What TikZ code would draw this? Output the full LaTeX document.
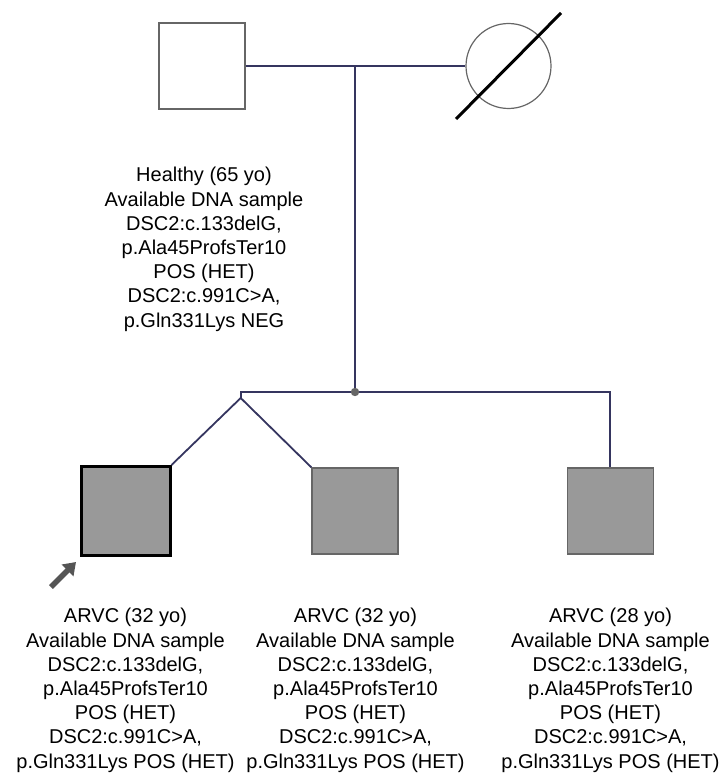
\documentclass[tikz,border=0pt]{standalone}
\usepackage{fontspec}
\setmainfont{Liberation Sans}
\usetikzlibrary{arrows.meta}
\definecolor{pedline}{HTML}{35355F}
\definecolor{boxgray}{HTML}{999999}
\definecolor{edgegray}{HTML}{666666}
\definecolor{arrowgray}{HTML}{555555}
\tikzset{
  pedlink/.style={draw=pedline, line width=2pt},
  femalesym/.style={circle, draw=edgegray, line width=1.2pt, minimum size=85pt, inner sep=0pt},
  malewhite/.style={rectangle, draw=edgegray, line width=1.5pt, fill=white, minimum size=86pt, inner sep=0pt},
  maleaff/.style={rectangle, draw=edgegray, line width=1.5pt, fill=boxgray, minimum size=86pt, inner sep=0pt},
  proband/.style={rectangle, draw=black, line width=3pt, fill=boxgray, minimum size=89pt, inner sep=0pt},
  info/.style={align=center, font=\fontsize{20pt}{24.2pt}\selectfont, inner sep=0pt, anchor=base}
}
\begin{document}
\begin{tikzpicture}[x=1pt,y=-1pt]
\useasboundingbox (0,0) rectangle (721,776);
% parents
\node[malewhite] (father) at (202,66) {};
\node[femalesym] (mother) at (508.5,66) {};
\coordinate (slashA) at (456,119);
\coordinate (slashB) at (561,13);
\draw[black, line width=3pt] (slashA) -- (slashB);
\draw[pedlink] (father.east) -- (mother.west);
\coordinate (mid) at (355,66);
\coordinate (sib) at (355,392);
\draw[pedlink] (mid) -- (sib);
% children
\node[proband] (c1) at (125.5,511) {};
\node[maleaff] (c2) at (355,511) {};
\node[maleaff] (c3) at (610.3,511) {};
\coordinate (sibL) at (240.7,392);
\coordinate (sibR) at (610.3,392);
\coordinate (twin) at (240.7,398);
\draw[pedlink, line join=miter] (twin) -- (sibL) -- (sibR) -- (c3.north);
\draw[pedlink, line width=1.8pt] (c1.north east) -- (twin) -- (c2.north west);
\fill[edgegray] (sib) circle (4.2pt);
% proband arrow
\coordinate (arrT) at (51,587);
\coordinate (arrH) at (76,562);
\draw[arrowgray, line width=5.5pt, -{Triangle[length=12pt,width=16pt]}] (arrT) -- (arrH);
% texts
\node[info] (t0) at (204,327) {Healthy (65 yo)\\Available DNA sample\\DSC2:c.133delG,\\p.Ala45ProfsTer10\\POS (HET)\\DSC2:c.991C>A,\\p.Gln331Lys NEG};
\node[info] (t1) at (125.5,768) {ARVC (32 yo)\\Available DNA sample\\DSC2:c.133delG,\\p.Ala45ProfsTer10\\POS (HET)\\DSC2:c.991C>A,\\p.Gln331Lys POS (HET)};
\node[info] (t2) at (355.5,768) {ARVC (32 yo)\\Available DNA sample\\DSC2:c.133delG,\\p.Ala45ProfsTer10\\POS (HET)\\DSC2:c.991C>A,\\p.Gln331Lys POS (HET)};
\node[info] (t3) at (610.5,768) {ARVC (28 yo)\\Available DNA sample\\DSC2:c.133delG,\\p.Ala45ProfsTer10\\POS (HET)\\DSC2:c.991C>A,\\p.Gln331Lys POS (HET)};
\end{tikzpicture}
\end{document}
